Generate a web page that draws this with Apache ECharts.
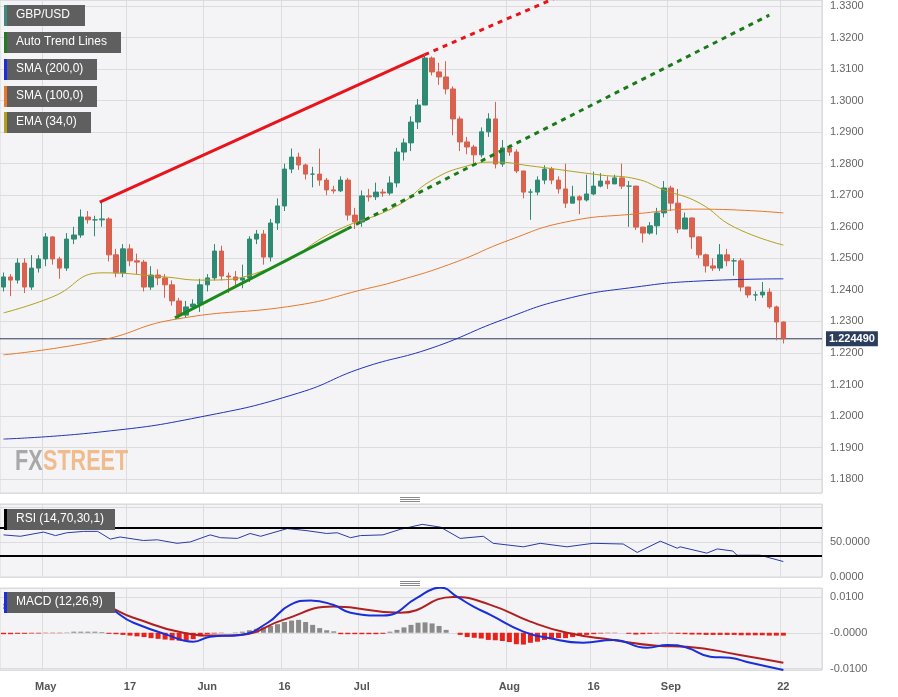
<!DOCTYPE html>
<html>
<head>
<meta charset="utf-8">
<script src="https://cdn.jsdelivr.net/npm/echarts@6/dist/echarts.min.js"></script>
<style>
  html, body { margin: 0; padding: 0; background: #fff; }
  #chart { width: 898px; height: 697px; }
</style>
</head>
<body>
<div id="chart"></div>
<script>
// GBP/USD daily, 24 Apr - 22 Sep
var firstOpen = 1.2409;
var closes = [1.2441,1.2431,1.2485,1.2409,1.2469,1.2498,1.2568,1.2498,1.2469,1.2561,
  1.2574,1.2631,1.2622,1.2622,1.2625,1.2511,1.2454,1.2530,1.2492,1.2488,
  1.2409,1.2447,1.2438,1.2416,1.2365,1.2320,1.2346,1.2355,1.2416,1.2438,
  1.2523,1.2444,1.2441,1.2431,1.2438,1.2561,1.2577,1.2504,1.2612,1.2666,
  1.2783,1.2821,1.2796,1.2767,1.2767,1.2748,1.2717,1.2714,1.2748,1.2637,
  1.2615,1.2698,1.2695,1.2710,1.2707,1.2739,1.2837,1.2866,1.2932,1.2986,
  1.3135,1.3091,1.3075,1.3037,1.2942,1.2869,1.2853,1.2828,1.2901,1.2942,
  1.2799,1.2850,1.2837,1.2777,1.2710,1.2710,1.2748,1.2783,1.2748,1.2720,
  1.2675,1.2695,1.2685,1.2704,1.2729,1.2745,1.2736,1.2755,1.2729,1.2729,
  1.2599,1.2580,1.2603,1.2644,1.2723,1.2675,1.2593,1.2628,1.2568,1.2511,
  1.2476,1.2469,1.2511,1.2492,1.2492,1.2409,1.2384,1.2384,1.2393,1.2346,
  1.2298,1.2245];
var highs = [1.2455,1.2450,1.2500,1.2500,1.2510,1.2510,1.2580,1.2570,1.2505,1.2580,
  1.2600,1.2655,1.2650,1.2635,1.2679,1.2630,1.2530,1.2545,1.2545,1.2515,
  1.2495,1.2475,1.2465,1.2450,1.2430,1.2375,1.2365,1.2370,1.2435,1.2450,
  1.2545,1.2540,1.2455,1.2460,1.2480,1.2570,1.2590,1.2590,1.2625,1.2690,
  1.2800,1.2848,1.2835,1.2800,1.2790,1.2848,1.2755,1.2730,1.2760,1.2755,
  1.2660,1.2715,1.2720,1.2740,1.2720,1.2760,1.2850,1.2880,1.2950,1.3005,
  1.3142,1.3140,1.3120,1.3125,1.3045,1.2950,1.2885,1.2860,1.2915,1.2960,
  1.2996,1.2875,1.2860,1.2845,1.2775,1.2720,1.2760,1.2795,1.2790,1.2760,
  1.2800,1.2730,1.2700,1.2765,1.2775,1.2770,1.2760,1.2765,1.2800,1.2745,
  1.2730,1.2600,1.2615,1.2660,1.2745,1.2730,1.2720,1.2645,1.2630,1.2570,
  1.2515,1.2500,1.2545,1.2530,1.2500,1.2500,1.2410,1.2395,1.2425,1.2405,
  1.2350,1.2300];
var lows = [1.2395,1.2380,1.2420,1.2390,1.2400,1.2455,1.2475,1.2480,1.2435,1.2460,
  1.2545,1.2565,1.2610,1.2570,1.2600,1.2490,1.2440,1.2440,1.2475,1.2450,
  1.2395,1.2400,1.2415,1.2375,1.2350,1.2308,1.2312,1.2340,1.2330,1.2395,
  1.2430,1.2430,1.2390,1.2410,1.2405,1.2425,1.2545,1.2480,1.2490,1.2590,
  1.2650,1.2770,1.2780,1.2750,1.2725,1.2730,1.2700,1.2705,1.2710,1.2620,
  1.2593,1.2600,1.2680,1.2685,1.2695,1.2700,1.2725,1.2810,1.2840,1.2910,
  1.2990,1.3080,1.3050,1.3020,1.2890,1.2840,1.2830,1.2795,1.2820,1.2885,
  1.2785,1.2790,1.2825,1.2770,1.2690,1.2622,1.2700,1.2735,1.2735,1.2705,
  1.2660,1.2675,1.2640,1.2680,1.2700,1.2725,1.2720,1.2735,1.2720,1.2600,
  1.2590,1.2550,1.2575,1.2575,1.2630,1.2650,1.2580,1.2595,1.2530,1.2500,
  1.2455,1.2460,1.2460,1.2475,1.2445,1.2395,1.2375,1.2365,1.2375,1.2340,
  1.2240,1.2230];
var lastPrice = 1.22449;

// indicator lines read at sample points: [candle index, value]
var sma200 = [[0,1.1927],[14,1.1950],[28,1.1997],[42,1.2073],[51,1.2152],[61,1.2216],
  [71,1.2305],[80,1.2371],[90,1.2409],[99,1.2428],[111,1.2435]];
var sma100 = [[0,1.2194],[14,1.2241],[24,1.2305],[42,1.2352],[51,1.2400],[56,1.2428],
  [64,1.2485],[72,1.2558],[80,1.2615],[90,1.2641],[99,1.2656],[111,1.2644]];
var ema34 = [[0,1.2327],[7,1.2378],[14,1.2454],[23,1.2441],[28,1.2431],[38,1.2469],
  [47,1.2584],[56,1.2666],[61,1.2748],[66,1.2793],[70,1.2805],[75,1.2793],[85,1.2764],
  [90,1.2752],[94,1.2717],[99,1.2676],[104,1.2599],[111,1.2542]];
var redTrend = [[13.7,1.2678],[59.9,1.3145]];
var redTrendExt = [[59.9,1.3145],[79,1.3330]];
var greenTrend = [[24.4,1.2311],[48.9,1.2593]];
var greenTrendExt = [[48.9,1.2593],[109,1.3271]];

var rsi = [[0,60],[2.4,58],[5.7,64],[7.4,59],[9,63],[11.4,65],[13.4,65],[15.2,54],[16.6,57],
  [19.9,52],[21.9,53],[24.7,48],[26.6,50],[29.4,60],[30.9,56],[33.3,55],[35.1,62],[36.6,58],
  [40.4,69],[43.2,66],[46,62],[47.5,63],[49.4,56],[50.8,59],[54,60],[56.5,68],[59.6,75],
  [62.2,71],[65,55],[68.3,58],[69.7,48],[74,43],[76.4,48],[80.2,43],[83.9,48],[88.2,47],
  [90.2,35],[93.5,51],[95.9,41],[96.3,43],[100.1,34],[101.6,40],[103.8,37],[104.4,31],
  [107.7,31],[111,22]];
var macd = [[0,0.0070],[6.7,0.0059],[13.8,0.0070],[18.5,0.0028],[23.3,-0.0006],[27,-0.0025],
  [29.4,-0.0011],[33.7,-0.0006],[37.6,0.0028],[40.8,0.0078],[43.7,0.0090],[46.9,0.0078],
  [49.4,0.0056],[54,0.0048],[58.9,0.0098],[61.2,0.0123],[62.2,0.0126],[64.6,0.0100],
  [66.9,0.0073],[69.3,0.0050],[74,0.0003],[77.4,-0.0014],[82.5,-0.0028],[86.8,-0.0020],
  [91.6,-0.0042],[94.5,-0.0034],[97.3,-0.0042],[100.6,-0.0067],[103.4,-0.0070],
  [106.3,-0.0084],[111,-0.0104]];
var signal = [[0,0.0078],[13.8,0.0073],[18.5,0.0042],[25.6,0.0000],[30.4,-0.0008],
  [33.7,-0.0006],[39.8,0.0036],[46.9,0.0073],[56.5,0.0056],[64,0.0100],[69.3,0.0078],
  [75,0.0031],[80.2,0.0000],[86.8,-0.0020],[93,-0.0036],[97.3,-0.0039],[104.8,-0.0062],
  [111,-0.0084]];
var hist = [-0.0004,-0.0004,-0.0003,-0.0003,-0.0002,-0.0002,-0.0001,-0.0001,-0.0001,0.0001,
  0.0003,0.0003,0.0003,0.0003,0.0002,-0.0003,-0.0004,-0.0006,-0.0008,-0.0010,
  -0.0012,-0.0015,-0.0017,-0.0019,-0.0021,-0.0022,-0.0022,-0.0018,-0.0010,-0.0004,
  -0.0002,-0.0001,0.0000,0.0001,0.0003,0.0007,0.0011,0.0015,0.0019,0.0024,
  0.0030,0.0034,0.0036,0.0030,0.0022,0.0013,0.0007,0.0004,-0.0004,-0.0004,
  -0.0004,-0.0004,-0.0004,-0.0004,-0.0003,0.0003,0.0008,0.0015,0.0022,0.0028,
  0.0029,0.0026,0.0019,0.0008,0.0000,-0.0006,-0.0012,-0.0014,-0.0016,-0.0020,
  -0.0021,-0.0023,-0.0026,-0.0032,-0.0033,-0.0028,-0.0025,-0.0020,-0.0018,-0.0015,
  -0.0015,-0.0012,-0.0008,-0.0006,-0.0004,-0.0002,-0.0001,-0.0001,0.0000,-0.0003,
  -0.0005,-0.0004,-0.0003,-0.0002,-0.0001,-0.0002,-0.0003,-0.0004,-0.0005,-0.0005,
  -0.0006,-0.0006,-0.0006,-0.0006,-0.0006,-0.0007,-0.0007,-0.0007,-0.0007,-0.0008,
  -0.0008,-0.0008];

// date labels at candle index
var tickLabels = {6:'May',18:'17',29:'Jun',40:'16',51:'Jul',72:'Aug',84:'16',95:'Sep',111:'22'};
var slots = 117;

var upColor = '#2f8a74', downColor = '#d9614e';

var cats = [], candles = [], histData = [];
for (var i = 0; i < slots; i++) {
  cats.push(i);
  if (i < closes.length) {
    var o = i === 0 ? firstOpen : closes[i - 1];
    candles.push([o, closes[i], lows[i], highs[i]]);
    histData.push({value: hist[i], itemStyle: {color: hist[i] >= 0 ? '#8a8a8a' : '#e8221b'}});
  } else {
    candles.push('-');
    histData.push('-');
  }
}

function isTick(idx) { return tickLabels[idx] !== undefined; }

var grids = [
  {left: 0, right: 76, top: 0, height: 493},
  {left: 0, right: 76, top: 504, height: 73},
  {left: 0, right: 76, top: 588, height: 82}
];
var bg = '#f4f4f6';
var xAxes = [], i2;
for (i2 = 0; i2 < 3; i2++) {
  xAxes.push({
    type: 'category', gridIndex: i2, data: cats, boundaryGap: true,
    axisLine: {show: false}, axisTick: {show: false},
    axisLabel: {show: i2 === 2, interval: function (idx) { return isTick(idx); },
      formatter: function (v) { return tickLabels[v] || ''; },
      color: '#555', fontSize: 11, fontWeight: 'bold', fontFamily: 'Arial', margin: 11},
    splitLine: {show: true, interval: function (idx) { return isTick(idx); },
      lineStyle: {color: '#dcdcde', width: 1}}
  });
}
for (i2 = 0; i2 < 3; i2++) {
  xAxes.push({type: 'value', gridIndex: i2, min: -0.5, max: slots - 0.5, show: false});
}

var yLabel = {color: '#666', fontSize: 11, fontFamily: 'Arial', margin: 8, showMinLabel: false, showMaxLabel: false};
var option = {
  backgroundColor: '#fff',
  animation: false,
  grid: grids.map(function (g) { return Object.assign({show: true, backgroundColor: bg, borderColor: '#d8d8d8', borderWidth: 1}, g); }),
  xAxis: xAxes,
  yAxis: [
    {type: 'value', gridIndex: 0, position: 'right', min: 1.1756, max: 1.3319, splitNumber: 16,
      axisLine: {show: false}, axisTick: {show: false},
      axisLabel: Object.assign({formatter: function (v) { return v.toFixed(4); }}, yLabel),
      splitLine: {lineStyle: {color: '#dcdcde'}}},
    {type: 'value', gridIndex: 1, position: 'right', min: 0, max: 104, interval: 50,
      axisLine: {show: false}, axisTick: {show: false},
      axisLabel: Object.assign({}, yLabel, {showMinLabel: true, formatter: function (v) { return v <= 50 ? v.toFixed(4) : ''; }}),
      splitLine: {lineStyle: {color: '#dcdcde'}}},
    {type: 'value', gridIndex: 2, position: 'right', min: -0.0104, max: 0.0125, splitNumber: 2,
      axisLine: {show: false}, axisTick: {show: false},
      axisLabel: Object.assign({formatter: function (v) { return Math.abs(v) < 1e-9 ? '-0.0000' : v.toFixed(4); }}, yLabel),
      splitLine: {lineStyle: {color: '#dcdcde'}}}
  ],
  series: [
    {type: 'candlestick', xAxisIndex: 0, yAxisIndex: 0, data: candles, barWidth: 5,
      itemStyle: {color: upColor, color0: downColor, borderColor: upColor, borderColor0: downColor, borderWidth: 1}},
    {type: 'line', xAxisIndex: 3, yAxisIndex: 0, data: [[-0.5, lastPrice], [slots - 0.5, lastPrice]], symbol: 'none',
      lineStyle: {color: '#2b3a5a', width: 1}, z: 1,
      endLabel: {show: true, formatter: lastPrice.toFixed(6), color: '#fff', backgroundColor: '#2b3d5c',
        padding: [2, 3], fontSize: 11, fontWeight: 'bold', fontFamily: 'Arial', distance: 4}},
    {type: 'line', xAxisIndex: 3, yAxisIndex: 0, data: sma200, smooth: true, symbol: 'none', lineStyle: {color: '#2233bb', width: 1}},
    {type: 'line', xAxisIndex: 3, yAxisIndex: 0, data: sma100, smooth: true, symbol: 'none', lineStyle: {color: '#e8782a', width: 1}},
    {type: 'line', xAxisIndex: 3, yAxisIndex: 0, data: ema34, smooth: true, symbol: 'none', lineStyle: {color: '#b3a01c', width: 1}},
    {type: 'line', xAxisIndex: 3, yAxisIndex: 0, data: redTrend, symbol: 'none', lineStyle: {color: '#e8141b', width: 3}},
    {type: 'line', xAxisIndex: 3, yAxisIndex: 0, data: redTrendExt, symbol: 'none', lineStyle: {color: '#e8141b', width: 3, type: [5, 5]}},
    {type: 'line', xAxisIndex: 3, yAxisIndex: 0, data: greenTrend, symbol: 'none', lineStyle: {color: '#1a8a1a', width: 3}},
    {type: 'line', xAxisIndex: 3, yAxisIndex: 0, data: greenTrendExt, symbol: 'none', lineStyle: {color: '#1a7a1a', width: 3, type: [5, 5]}},
    {type: 'line', xAxisIndex: 4, yAxisIndex: 1, data: rsi, symbol: 'none', lineStyle: {color: '#2a3aa8', width: 1},
      markLine: {symbol: 'none', silent: true, label: {show: false}, lineStyle: {color: '#000', type: 'solid', width: 2},
        data: [{yAxis: 70}, {yAxis: 30}]}},
    {type: 'bar', xAxisIndex: 2, yAxisIndex: 2, data: histData, barWidth: 5},
    {type: 'line', xAxisIndex: 5, yAxisIndex: 2, data: signal, smooth: true, symbol: 'none', lineStyle: {color: '#b02020', width: 2}},
    {type: 'line', xAxisIndex: 5, yAxisIndex: 2, data: macd, smooth: true, symbol: 'none', lineStyle: {color: '#1a2fd8', width: 2}}
  ],
  graphic: []
};

// legend tags
var tags = [
  ['GBP/USD', '#3e8a80', 5, 81],
  ['Auto Trend Lines', '#237a23', 32, 117],
  ['SMA (200,0)', '#1a2fd8', 59, 93],
  ['SMA (100,0)', '#e8782a', 86, 93],
  ['EMA (34,0)', '#b3a01c', 112, 87],
  ['RSI (14,70,30,1)', '#000', 509, 111],
  ['MACD (12,26,9)', '#1a2fd8', 592, 111]
];
tags.forEach(function (t) {
  option.graphic.push({type: 'rect', z: 100, left: 4, top: t[2], shape: {width: t[3], height: 21}, style: {fill: '#5f5f5f'}});
  option.graphic.push({type: 'rect', z: 101, left: 4, top: t[2], shape: {width: 3, height: 21}, style: {fill: t[1]}});
  option.graphic.push({type: 'text', z: 102, left: 16, top: t[2] + 4, style: {text: t[0], fill: '#fff', font: '12px Arial'}});
});
option.graphic.push({type: 'text', z: 100, x: 15, y: 447, scaleX: 0.72, style: {text: 'FX', fill: '#9a9a9a', font: 'bold 30px Arial', opacity: 0.85}});
option.graphic.push({type: 'text', z: 100, x: 43, y: 447, scaleX: 0.72, style: {text: 'STREET', fill: '#f0b27a', font: 'bold 30px Arial', opacity: 0.85}});
// panel grip marks
[497, 581].forEach(function (y) {
  for (var k = 0; k < 3; k++) {
    option.graphic.push({type: 'rect', z: 100, left: 400, top: y + k * 2, shape: {width: 20, height: 1}, style: {fill: '#888'}});
  }
});

var chart = echarts.init(document.getElementById('chart'));
chart.setOption(option);
</script>
</body>
</html>
